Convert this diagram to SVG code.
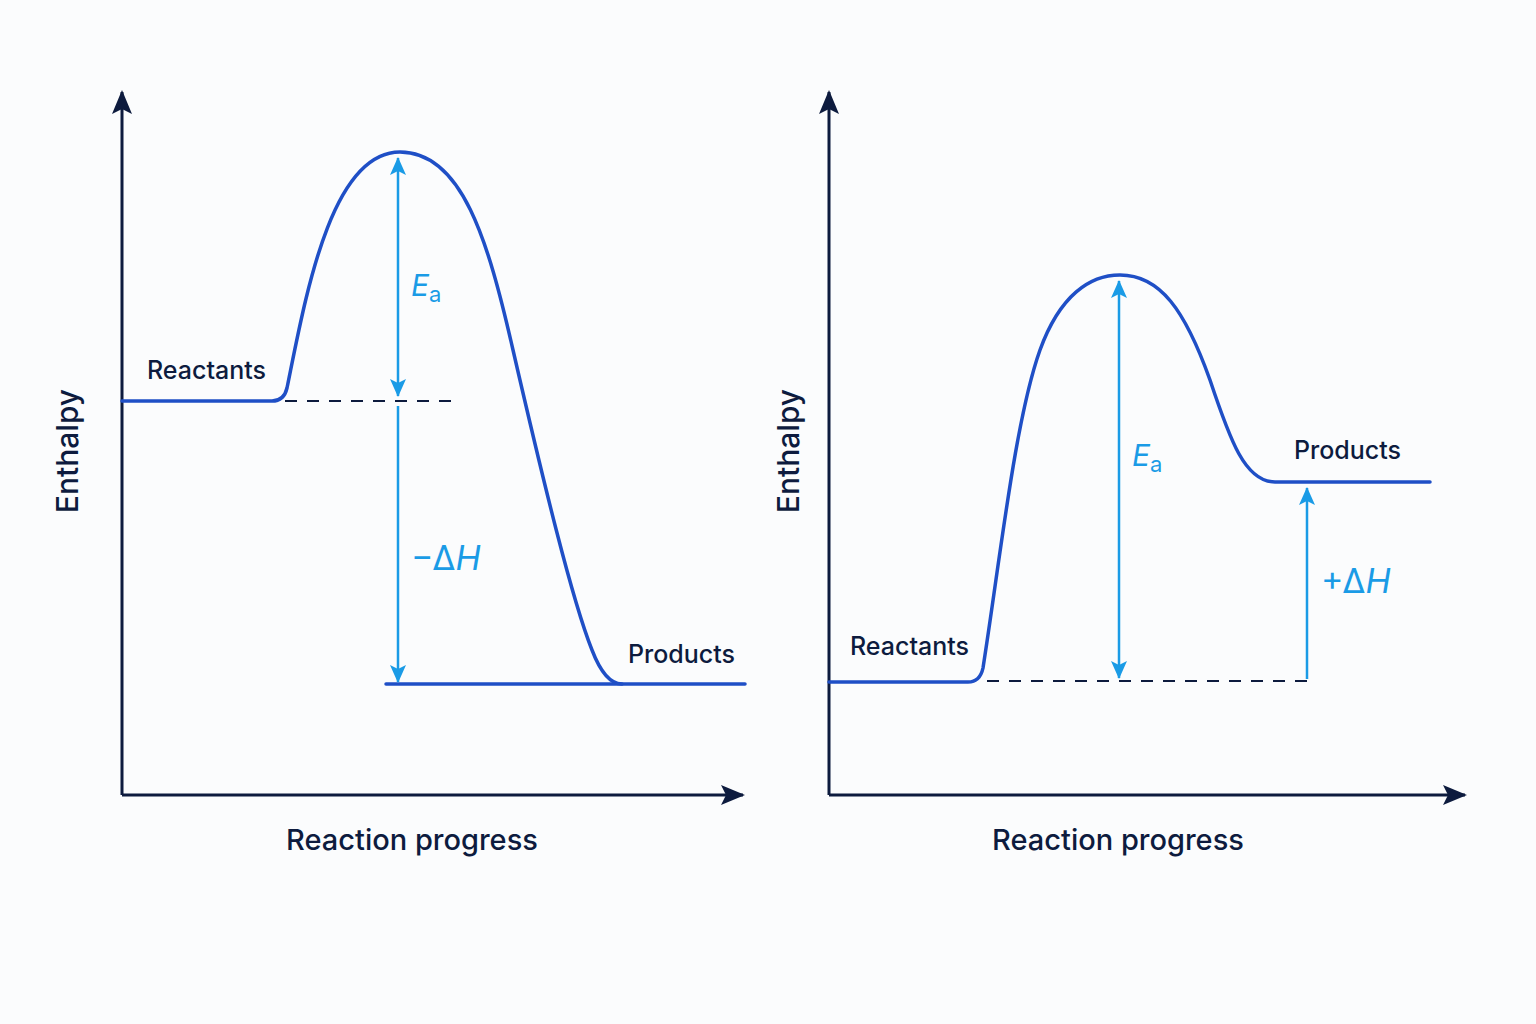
<svg xmlns="http://www.w3.org/2000/svg" width="1536" height="1024" viewBox="0 0 1536 1024">
<defs>
<style>
.axis{stroke:#0d1b3e;stroke-width:3;fill:none}
.curve{stroke:#1f4fc6;stroke-width:3.5;fill:none;stroke-linecap:round;stroke-linejoin:round}
.dash{stroke:#0d1b3e;stroke-width:2.2;stroke-dasharray:12 10;fill:none}
.dim{stroke:#1a9be6;stroke-width:2.5;fill:none}
.lbl{font-family:Inter,"Liberation Sans",sans-serif;fill:#0d1b3e;font-weight:500}
.sym{font-family:Inter,"Liberation Sans",sans-serif;fill:#1a9be6}
</style>
<marker id="axArrow" viewBox="0 0 24 24" refX="22" refY="12" markerWidth="24" markerHeight="24" markerUnits="userSpaceOnUse" orient="auto">
<path d="M0,2 L24,12 L0,22 L5,12 Z" fill="#0d1b3e"/>
</marker>
<marker id="dimArrow" viewBox="0 0 18 18" refX="17" refY="9" markerWidth="18" markerHeight="18" markerUnits="userSpaceOnUse" orient="auto-start-reverse">
<path d="M0,1 L18,9 L0,17 L4,9 Z" fill="#1a9be6"/>
</marker>
</defs>
<rect width="1536" height="1024" fill="#fbfcfd"/>

<g id="connectors">
<path class="axis" d="M122,795 V92" marker-end="url(#axArrow)"/>
<path class="axis" d="M122,795 H743" marker-end="url(#axArrow)"/>
<path class="axis" d="M829,795 V92" marker-end="url(#axArrow)"/>
<path class="axis" d="M829,795 H1465" marker-end="url(#axArrow)"/>
<path class="curve" d="M122,401 H272 Q284,401 287,388 C305,300 330,152 400,152 C462,152 488,240 513,350 C543,480 572,600 592,650 Q605,684 622,684 H745"/>
<path class="curve" d="M386,684 H622"/>
<path class="dash" d="M285,401 H460"/>
<path class="dim" d="M398,158 V396" marker-start="url(#dimArrow)" marker-end="url(#dimArrow)"/>
<path class="dim" d="M398,406 V682" marker-end="url(#dimArrow)"/>
<path class="curve" d="M829,682 H968 Q980,682 983,668 C1000,560 1015,420 1040,350 C1060,295 1090,275 1120,275 C1160,275 1185,310 1210,380 C1230,440 1245,482 1275,482 H1430"/>
<path class="dash" d="M987,681 H1316"/>
<path class="dim" d="M1119,281 V678" marker-start="url(#dimArrow)" marker-end="url(#dimArrow)"/>
<path class="dim" d="M1307,679 V488" marker-end="url(#dimArrow)"/>
</g>

<g id="left-labels">
<text class="lbl" x="147" y="379" font-size="25">Reactants</text>
<text class="lbl" x="628" y="663" font-size="25">Products</text>
<text class="sym" x="411" y="296" font-size="30"><tspan font-style="italic">E</tspan><tspan font-size="22" dy="6">a</tspan></text>
<text class="sym" x="411" y="570" font-size="34">−Δ<tspan font-style="italic">H</tspan></text>
<text class="lbl" font-size="30" transform="translate(78,451) rotate(-90)" text-anchor="middle">Enthalpy</text>
<text class="lbl" x="412" y="850" font-size="29" text-anchor="middle">Reaction progress</text>
</g>

<g id="right-labels">
<text class="lbl" x="850" y="655" font-size="25">Reactants</text>
<text class="lbl" x="1294" y="459" font-size="25">Products</text>
<text class="sym" x="1132" y="466" font-size="30"><tspan font-style="italic">E</tspan><tspan font-size="22" dy="6">a</tspan></text>
<text class="sym" x="1321" y="593" font-size="34">+Δ<tspan font-style="italic">H</tspan></text>
<text class="lbl" font-size="30" transform="translate(799,451) rotate(-90)" text-anchor="middle">Enthalpy</text>
<text class="lbl" x="1118" y="850" font-size="29" text-anchor="middle">Reaction progress</text>
</g>
</svg>
